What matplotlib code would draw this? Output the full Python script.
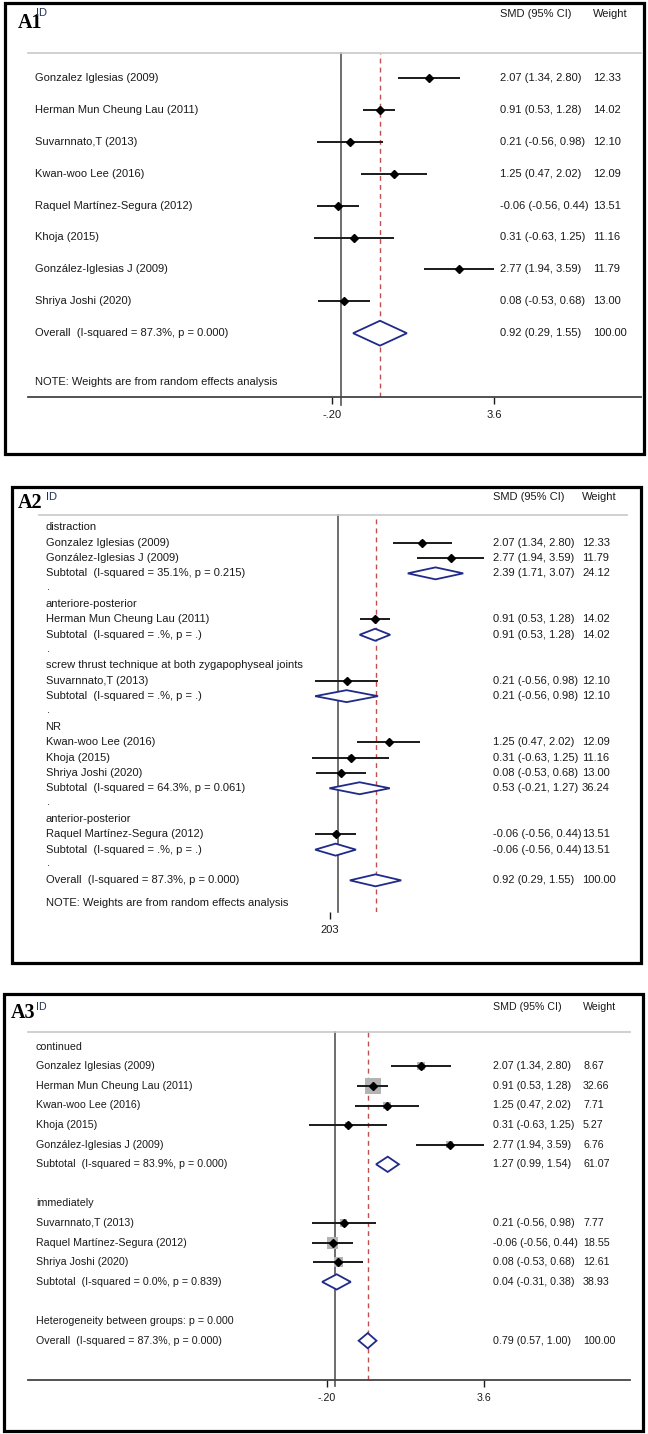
import matplotlib
matplotlib.use("Agg")
import matplotlib.pyplot as plt
from matplotlib.patches import Rectangle
import matplotlib.transforms as mtransforms

plt.rcParams['font.family'] = ['Liberation Sans', 'DejaVu Sans']

# ---------------- data ----------------
studies = ["Gonzalez Iglesias (2009)", "Herman Mun Cheung Lau (2011)", "Suvarnnato,T (2013)",
           "Kwan-woo Lee (2016)", "Raquel Martínez-Segura (2012)", "Khoja (2015)",
           "González-Iglesias J (2009)", "Shriya Joshi (2020)"]
smd = [2.07, 0.91, 0.21, 1.25, -0.06, 0.31, 2.77, 0.08]
ci_lo = [1.34, 0.53, -0.56, 0.47, -0.56, -0.63, 1.94, -0.53]
ci_hi = [2.80, 1.28, 0.98, 2.02, 0.44, 1.25, 3.59, 0.68]
weight_re = [12.33, 14.02, 12.10, 12.09, 13.51, 11.16, 11.79, 13.00]

overall_re = (0.92, 0.29, 1.55, 100.00)
overall_re_label = "Overall  (I-squared = 87.3%, p = 0.000)"

# A2 subgroups (technique)
a2_groups = ["distraction", "anteriore-posterior", "screw thrust technique at both zygapophyseal joints",
             "NR", "anterior-posterior"]
a2_members = [[0, 6], [1], [2], [3, 5, 7], [4]]
a2_sub_labels = ["Subtotal  (I-squared = 35.1%, p = 0.215)", "Subtotal  (I-squared = .%, p = .)",
                 "Subtotal  (I-squared = .%, p = .)", "Subtotal  (I-squared = 64.3%, p = 0.061)",
                 "Subtotal  (I-squared = .%, p = .)"]
a2_sub_es = [2.39, 0.91, 0.21, 0.53, -0.06]
a2_sub_lo = [1.71, 0.53, -0.56, -0.21, -0.56]
a2_sub_hi = [3.07, 1.28, 0.98, 1.27, 0.44]
a2_sub_w = [24.12, 14.02, 12.10, 36.24, 13.51]

# A3 subgroups (follow-up)
a3_groups = ["continued", "immediately"]
a3_members = [[0, 1, 3, 5, 6], [2, 4, 7]]
a3_weights = {0: 8.67, 1: 32.66, 3: 7.71, 5: 5.27, 6: 6.76, 2: 7.77, 4: 18.55, 7: 12.61}
a3_sub_labels = ["Subtotal  (I-squared = 83.9%, p = 0.000)", "Subtotal  (I-squared = 0.0%, p = 0.839)"]
a3_sub_es = [1.27, 0.04]
a3_sub_lo = [0.99, -0.31]
a3_sub_hi = [1.54, 0.38]
a3_sub_w = [61.07, 38.93]
a3_het_label = "Heterogeneity between groups: p = 0.000"
overall_fe = (0.79, 0.57, 1.00, 100.00)

tick_vals = [-0.2, 3.6]
tick_labels = ["-.20", "3.6"]
note_text = "NOTE: Weights are from random effects analysis"

# ---------------- styling ----------------
W, H = 648, 1434
TXT = '#1a1a1a'
NAVY = '#1f2a8a'
RED = '#c0504d'
fig = plt.figure(figsize=(W / 100, H / 100), dpi=100)


def fx(px):
    return px / W


def fy(py):
    return 1 - py / H


def fmt(es, lo, hi):
    return f"{es:.2f} ({lo:.2f}, {hi:.2f})"


def panel(lay, rows, ov_es, note_row=None):
    # border
    x0, y0b, x1, y1b = lay['box']
    fig.add_artist(Rectangle((fx(x0), fy(y1b)), fx(x1 - x0), (y1b - y0b) / H, fill=False,
                             ec='black', lw=2.3, transform=fig.transFigure))
    L, R, T, B = lay['L'], lay['R'], lay['T'], lay['B']
    ax = fig.add_axes([fx(L), fy(B), fx(R - L), (B - T) / H])
    px0, sc, ry0, dy = lay['px0'], lay['sc'], lay['y0'], lay['dy']
    ax.set_xlim((L - px0) / sc, (R - px0) / sc)
    ax.set_ylim((B - ry0) / dy, (T - ry0) / dy)
    ax.set_facecolor('none')
    for s in ['left', 'right']:
        ax.spines[s].set_visible(False)
    ax.spines['top'].set_color('#c8c8c8')
    ax.spines['top'].set_linewidth(1.2)
    if lay['axis']:
        ax.spines['bottom'].set_color('#444444')
        ax.spines['bottom'].set_linewidth(1.3)
    else:
        ax.spines['bottom'].set_visible(False)
    ax.set_yticks([])
    ax.set_xticks(lay['ticks'])
    ax.set_xticklabels(lay['ticklabels'])
    ax.tick_params(axis='x', length=5, width=1, colors=TXT, labelsize=lay['fs'], pad=4.5)

    fs = lay['fs']
    tr = mtransforms.blended_transform_factory(ax.transAxes, ax.transData)

    def colx(px):
        return (px - L) / (R - L)

    # reference lines
    ax.axvline(0, ymin=-lay['null_ext'] / (B - T), ymax=1, color='#555555', lw=1.2,
               clip_on=False, zorder=1)
    ax.axvline(ov_es, color=RED, lw=1.0, ls=(0, (3.5, 3)), zorder=1)

    hh = 0.39
    for r in rows:
        kind = r['kind']
        y = r['row']
        if 'label' in r:
            ax.text(colx(lay['lab_x'] + r.get('dx', 0)), y, r['label'], transform=tr, fontsize=fs,
                    color=TXT, va='center', ha='left')
        if kind == 'study':
            if r['box'] > 0:
                ax.scatter([r['es']], [y], s=lay['boxk'] * r['w'], marker='s', color='#b3b3b3',
                           edgecolors='none', zorder=3)
            ax.hlines(y, r['lo'], r['hi'], color=TXT, lw=1.4, zorder=4)
            ax.plot([r['es']], [y], marker='D', ms=3.8, color='black', zorder=5)
        if kind == 'diamond':
            ax.fill([r['lo'], r['es'], r['hi'], r['es']], [y, y - hh, y, y + hh],
                    facecolor='white', edgecolor=NAVY, lw=1.3, zorder=4)
        if kind in ('study', 'diamond'):
            ax.text(colx(lay['val_x']), y, fmt(r['es'], r['lo'], r['hi']), transform=tr,
                    fontsize=fs, color=TXT, va='center', ha='left')
            ax.text(colx(lay['w_x']), y, f"{r['w']:.2f}", transform=tr, fontsize=fs,
                    color=TXT, va='center', ha='left')
    if note_row is not None:
        ax.text(colx(lay['lab_x']), note_row, note_text, transform=tr, fontsize=fs,
                color=TXT, va='center', ha='left')

    # header
    tx, ty = lay['tag_pos']
    fig.text(fx(tx), fy(ty), lay['tag'], fontsize=14.5, fontweight='bold',
             family=['Liberation Serif', 'DejaVu Serif'], color='black', va='center', ha='left')
    ix, iy = lay['id_pos']
    fig.text(fx(ix), fy(iy), "ID", fontsize=fs, color='#22305a', va='center', ha='left')
    fig.text(fx(lay['val_x']), fy(lay['head_y']), "SMD (95% CI)", fontsize=fs, color=TXT,
             va='center', ha='left')
    fig.text(fx(lay['w_x']), fy(lay['head_y']), "Weight", fontsize=fs, color=TXT,
             va='center', ha='left')
    return ax


def study_row(i, row, w, boxed):
    return dict(kind='study', row=row, label=studies[i], es=smd[i], lo=ci_lo[i], hi=ci_hi[i],
                w=w, box=1 if boxed else 0)


# ---------------- A1 ----------------
rows1 = [study_row(i, i, weight_re[i], False) for i in range(len(studies))]
rows1.append(dict(kind='diamond', row=len(studies), label=overall_re_label, es=overall_re[0],
                  lo=overall_re[1], hi=overall_re[2], w=overall_re[3]))
lay1 = dict(box=(5, 3, 644, 454), L=28, R=641, T=53, B=397, px0=340.7, sc=42.7, y0=78, dy=31.9,
            lab_x=35, val_x=500, w_x=593, null_ext=8, axis=True, head_y=14, id_pos=(36, 13),
            tag='A1', tag_pos=(18, 23), fs=8, ticks=tick_vals, ticklabels=tick_labels, boxk=0.8)
panel(lay1, rows1, overall_re[0], note_row=9.53)

# ---------------- A2 ----------------
rows2 = []
r = 0
for g, name in enumerate(a2_groups):
    rows2.append(dict(kind='head', row=r, label=name))
    r += 1
    for i in a2_members[g]:
        rows2.append(study_row(i, r, weight_re[i], True))
        r += 1
    rows2.append(dict(kind='diamond', row=r, label=a2_sub_labels[g], es=a2_sub_es[g],
                      lo=a2_sub_lo[g], hi=a2_sub_hi[g], w=a2_sub_w[g]))
    r += 1
    rows2.append(dict(kind='dot', row=r - 0.1, label=".", dx=1))
    r += 1
rows2.append(dict(kind='diamond', row=r, label=overall_re_label, es=overall_re[0],
                  lo=overall_re[1], hi=overall_re[2], w=overall_re[3]))
lay2 = dict(box=(11.7, 486.7, 641, 963), L=39, R=627, T=515, B=912, px0=338, sc=40.8, y0=527.3,
            dy=15.35, lab_x=45.6, val_x=493, w_x=582, null_ext=0, axis=False, head_y=497,
            id_pos=(46, 497), tag='A2', tag_pos=(18, 503), fs=8, ticks=[tick_vals[0]],
            ticklabels=["203"], boxk=0.9)
panel(lay2, rows2, overall_re[0], note_row=r + 1.5)

# ---------------- A3 ----------------
rows3 = []
r = 0
for g, name in enumerate(a3_groups):
    rows3.append(dict(kind='head', row=r, label=name))
    r += 1
    for i in a3_members[g]:
        rows3.append(study_row(i, r, a3_weights[i], True))
        r += 1
    rows3.append(dict(kind='diamond', row=r, label=a3_sub_labels[g], es=a3_sub_es[g],
                      lo=a3_sub_lo[g], hi=a3_sub_hi[g], w=a3_sub_w[g]))
    r += 2
rows3.append(dict(kind='head', row=r, label=a3_het_label))
r += 1
rows3.append(dict(kind='diamond', row=r, label=overall_re_label, es=overall_fe[0],
                  lo=overall_fe[1], hi=overall_fe[2], w=overall_fe[3]))
lay3 = dict(box=(3.5, 994, 643, 1431), L=28, R=630, T=1031.7, B=1380, px0=335, sc=41.5,
            y0=1046.7, dy=19.6, lab_x=36, val_x=493, w_x=583, null_ext=6, axis=True,
            head_y=1007, id_pos=(36, 1007), tag='A3', tag_pos=(11, 1013), fs=7.7,
            ticks=tick_vals, ticklabels=tick_labels, boxk=3.8)
panel(lay3, rows3, overall_fe[0])

fig.savefig("out.png", dpi=100, facecolor='white')
